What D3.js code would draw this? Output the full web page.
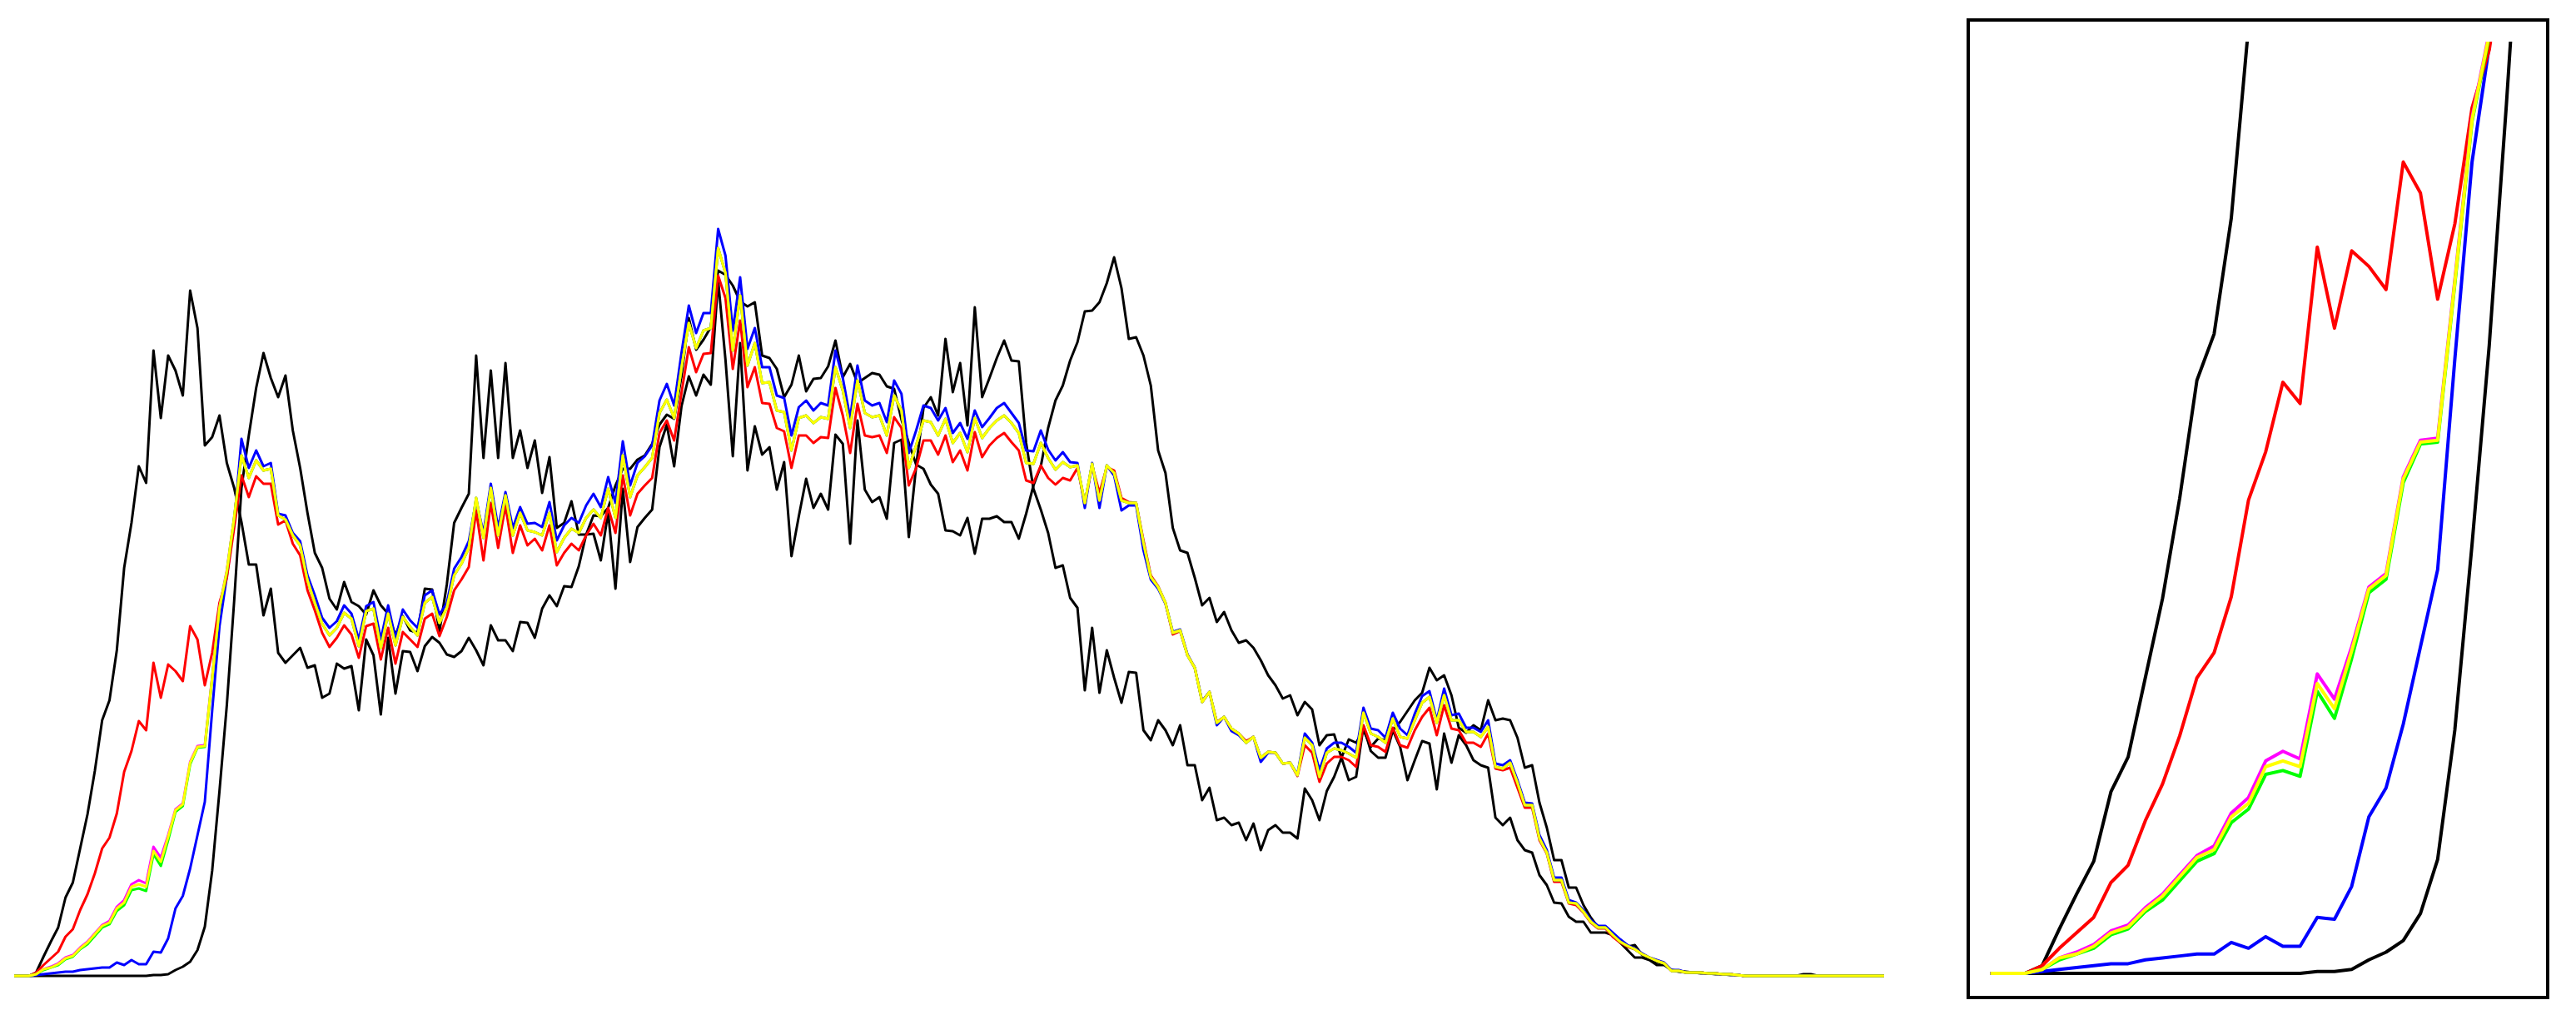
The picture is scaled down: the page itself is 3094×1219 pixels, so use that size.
<!DOCTYPE html>
<html><head><meta charset="utf-8">
<script src="https://cdn.jsdelivr.net/npm/d3@7"></script>
<style>html,body{margin:0;padding:0;background:#fff;} svg{display:block;}</style>
</head><body>
<svg id="chart" width="3094" height="1219"></svg>
<script>
// histogram bins 0..255
const bins = d3.range(256);

const blackDark = [
0,0,0,4,23,41,58,94,112,153,194,246,307,331,391,490,
544,612,592,751,670,745,727,697,823,778,637,647,673,616,586,545,
494,494,433,465,388,376,385,394,370,373,334,339,375,369,372,319,
404,385,314,406,339,390,389,366,396,407,400,386,383,390,406,391,
373,421,403,403,390,425,424,406,441,457,444,468,467,492,530,531,
499,557,465,585,497,539,550,560,635,662,612,684,720,697,722,710,
835,740,624,760,607,660,626,635,584,617,504,552,597,562,579,560,
650,639,519,667,584,569,575,549,640,644,527,612,682,695,673,765,
701,736,661,803,695,718,742,763,739,738,640,585,560,532,490,493,
454,442,343,418,340,391,358,328,365,364,295,283,307,295,277,301,
253,253,211,226,187,190,181,184,163,183,151,175,181,172,172,165,
225,211,187,222,239,262,235,239,300,270,262,262,295,275,235,259,
282,279,224,291,256,289,277,259,253,250,190,181,190,163,151,148,
121,109,88,87,71,65,65,52,52,52,49,40,31,22,22,19,
13,13,7,5,4,4,3,3,2,2,1,1,0,0,0,0,
0,0,0,0,0,0,0,0,0,0,0,0,0,0,0,0];

const blackBright = [
0,0,0,0,0,0,0,0,0,0,0,0,0,0,0,0,
0,0,0,1,1,2,7,11,17,31,59,126,222,325,450,586,
649,706,748,718,695,721,655,610,556,508,490,453,440,473,449,444,
434,463,445,435,409,432,415,412,465,464,414,470,544,562,579,745,
622,727,622,736,622,655,610,643,580,623,538,544,570,530,530,553,
552,562,589,609,609,620,625,639,662,674,669,720,790,752,764,779,
847,842,829,810,804,809,745,742,729,695,710,745,702,717,718,732,
763,719,735,712,718,724,722,708,705,668,640,614,609,590,579,535,
534,529,550,507,549,549,552,545,545,525,555,589,612,658,691,709,
739,761,798,799,809,832,863,826,765,767,745,709,631,604,538,511,
508,478,445,454,425,437,415,400,403,394,379,361,349,333,337,313,
329,320,277,289,290,262,284,280,295,275,285,283,295,305,318,331,
340,370,355,361,337,298,292,301,295,331,307,309,307,286,250,253,
208,178,139,139,106,106,85,70,58,58,49,40,35,37,25,21,
16,15,7,6,5,4,4,3,3,2,2,1,0,0,0,0,
0,0,0,0,2,2,0,0,0,0,0,0,0,0,0,0];

const blue = [
0,0,0,1,2,3,4,5,5,7,8,9,10,10,16,13,
19,14,14,29,28,45,81,96,129,169,209,318,420,480,544,645,
610,631,612,616,555,553,532,522,481,457,430,418,426,445,435,404,
444,449,404,445,405,440,427,418,457,463,434,448,489,503,522,571,
532,591,538,581,538,563,543,544,539,569,523,541,550,544,565,579,
563,599,568,642,589,616,624,637,691,711,685,748,805,772,796,796,
897,865,775,839,753,778,731,731,697,694,649,683,691,679,688,685,
751,718,670,733,691,685,688,665,715,699,628,655,685,682,667,682,
652,664,645,679,659,670,682,688,676,664,631,630,655,632,619,629,
617,616,562,616,562,613,601,559,565,565,511,476,465,447,413,416,
386,370,330,341,301,311,294,289,280,287,257,268,268,255,256,242,
291,280,247,273,280,280,275,268,322,297,295,286,316,297,289,315,
336,342,307,345,313,315,298,298,293,307,255,253,259,235,208,207,
169,151,118,118,91,88,79,67,60,60,52,44,37,33,27,22,
19,16,7,7,4,4,4,3,3,2,2,1,0,0,0,0,
0,0,0,0,0,0,0,0,0,0,0,0,0,0,0,0];

const red = [
0,0,0,4,13,21,29,47,56,79,98,123,153,166,195,245,
270,306,295,376,334,374,366,354,420,404,349,388,448,478,538,601,
575,600,591,591,542,547,519,505,463,439,412,395,406,421,410,382,
420,423,380,418,375,413,404,395,429,435,408,431,463,476,491,559,
499,568,514,565,508,541,517,525,511,541,493,508,519,511,529,543,
529,562,532,601,553,579,589,598,652,667,643,700,755,725,747,748,
841,814,729,787,707,731,688,687,658,654,610,649,649,640,647,646,
706,673,628,687,649,647,649,628,671,658,589,610,643,643,626,649,
617,631,607,653,623,637,646,652,641,631,595,592,613,598,590,598,
595,610,568,613,580,611,607,574,569,568,523,481,468,448,410,414,
385,370,329,341,305,311,297,291,282,287,262,269,268,255,256,240,
277,268,233,255,263,263,259,251,301,277,275,269,298,277,274,295,
311,322,289,325,297,295,280,280,275,291,249,247,250,226,202,202,
163,147,113,113,87,85,76,64,57,57,47,40,35,32,26,22,
18,15,6,6,4,4,4,3,3,2,2,1,0,0,0,0,
0,0,0,0,0,0,0,0,0,0,0,0,0,0,0,0];

const magenta = [
0,0,0,2,8,11,15,22,25,34,41,51,61,66,83,91,
110,115,111,155,142,169,200,207,257,276,277,359,443,487,550,625,
598,619,607,609,553,548,529,517,475,448,423,409,418,436,429,396,
438,441,394,435,397,431,419,409,448,455,424,442,481,495,514,574,
526,586,529,577,529,556,535,533,529,556,509,526,537,532,550,560,
550,585,550,625,575,601,611,622,676,692,670,730,784,754,775,778,
874,844,751,817,733,760,712,713,679,677,631,670,673,664,671,669,
731,703,658,715,676,671,673,649,697,679,610,637,667,665,649,669,
640,652,629,670,646,658,667,673,664,652,616,615,640,622,608,617,
611,613,568,615,571,613,604,571,568,568,520,479,467,448,412,415,
385,370,329,341,304,311,297,291,280,287,262,269,268,255,256,241,
286,277,239,268,273,271,267,262,316,291,287,280,309,287,285,307,
328,335,304,337,307,307,293,293,287,299,251,249,256,232,205,205,
165,148,115,115,88,87,77,65,58,58,49,41,36,32,26,22,
18,15,6,6,4,4,4,3,3,2,2,1,0,0,0,0,
0,0,0,0,0,0,0,0,0,0,0,0,0,0,0,0];

const green = [
0,0,0,2,7,10,13,20,23,32,38,48,58,62,78,85,
103,105,102,146,132,163,197,204,254,274,275,357,441,485,550,625,
598,619,607,609,553,548,529,517,475,448,423,409,418,436,429,396,
438,441,394,435,397,431,419,409,448,455,424,442,481,495,514,574,
526,586,529,577,529,556,535,533,529,556,509,526,537,532,550,560,
550,585,550,625,575,601,611,622,676,692,670,730,784,754,775,778,
874,844,751,817,733,760,712,713,679,677,631,670,673,664,671,669,
731,703,658,715,676,671,673,649,697,679,610,637,667,665,649,669,
640,652,629,670,646,658,667,673,664,652,616,615,640,622,608,617,
611,613,568,615,571,613,604,571,568,568,520,479,467,448,412,415,
385,370,329,341,304,311,297,291,280,287,262,269,268,255,256,241,
286,277,239,268,273,271,267,262,316,291,287,280,309,287,285,307,
328,335,304,337,307,307,293,293,287,299,251,249,256,232,205,205,
165,148,115,115,88,87,77,65,58,58,49,41,36,32,26,22,
18,15,6,6,4,4,4,3,3,2,2,1,0,0,0,0,
0,0,0,0,0,0,0,0,0,0,0,0,0,0,0,0];

const yellow = [
0,0,0,2,8,10,14,21,24,33,40,50,60,64,81,88,
107,110,107,150,137,167,199,206,256,275,276,358,442,486,550,625,
598,619,607,609,553,548,529,517,475,448,423,409,418,436,429,396,
438,441,394,435,397,431,419,409,448,455,424,442,481,495,514,574,
526,586,529,577,529,556,535,533,529,556,509,526,537,532,550,560,
550,585,550,625,575,601,611,622,676,692,670,730,784,754,775,778,
874,844,751,817,733,760,712,713,679,677,631,670,673,664,671,669,
731,703,658,715,676,671,673,649,697,679,610,637,667,665,649,669,
640,652,629,670,646,658,667,673,664,652,616,615,640,622,608,617,
611,613,568,615,571,613,604,571,568,568,520,479,467,448,412,415,
385,370,329,341,304,311,297,291,280,287,262,269,268,255,256,241,
286,277,239,268,273,271,267,262,316,291,287,280,309,287,285,307,
328,335,304,337,307,307,293,293,287,299,251,249,256,232,205,205,
165,148,115,115,88,87,77,65,58,58,49,41,36,32,26,22,
18,15,6,6,4,4,4,3,3,2,2,1,0,0,0,0,
0,0,0,0,0,0,0,0,0,0,0,0,0,0,0,0];

const seriesNames = ["blackDark","blackBright","blue","red","magenta","green","yellow"];
const seriesColors = ["#000000","#000000","#0000ff","#ff0000","#ff00ff","#00ff00","#ffff00"];
const seriesValues = [blackDark, blackBright, blue, red, magenta, green, yellow];
const insetMaxBin = 34;

const svg = d3.select("#chart");
svg.append("rect").attr("width",3094).attr("height",1219).attr("fill","#fff");

// main chart
const x = d3.scaleLinear().domain([0,255]).range([17,2263]);
const y = d3.scaleLinear().domain([0,1000]).range([1172,172]);
const gMain = svg.append("g").attr("class","main");
seriesValues.forEach((vals, k) => {
  const line = d3.line().x((d,i) => x(bins[i])).y(d => y(d));
  gMain.append("path").datum(vals)
    .attr("class","line " + seriesNames[k])
    .attr("fill","none").attr("stroke",seriesColors[k])
    .attr("stroke-width",3).attr("stroke-linejoin","round")
    .attr("d", line);
});

// inset (zoom on the first bins)
const box = {x0:2364, y0:24, x1:3060, y1:1198};
const xi = d3.scaleLinear().domain([-1.3, 32.4]).range([box.x0, box.x1]);
const yi = d3.scaleLinear().domain([0,1000]).range([1169, 1169 - 2320]);
svg.append("defs").append("clipPath").attr("id","insetClip")
  .append("rect").attr("x",box.x0).attr("y",50)
  .attr("width",box.x1-box.x0).attr("height",box.y1-50);
const gIn = svg.append("g").attr("clip-path","url(#insetClip)");
seriesValues.forEach((vals, k) => {
  const sub = vals.slice(0, insetMaxBin + 1);
  const line = d3.line().x((d,i) => xi(bins[i])).y(d => yi(d));
  gIn.append("path").datum(sub)
    .attr("fill","none").attr("stroke",seriesColors[k])
    .attr("stroke-width",4).attr("stroke-linejoin","round")
    .attr("d", line);
});
svg.append("rect").attr("x",box.x0).attr("y",box.y0)
  .attr("width",box.x1-box.x0).attr("height",box.y1-box.y0)
  .attr("fill","none").attr("stroke","#000").attr("stroke-width",4);
</script>
</body></html>
